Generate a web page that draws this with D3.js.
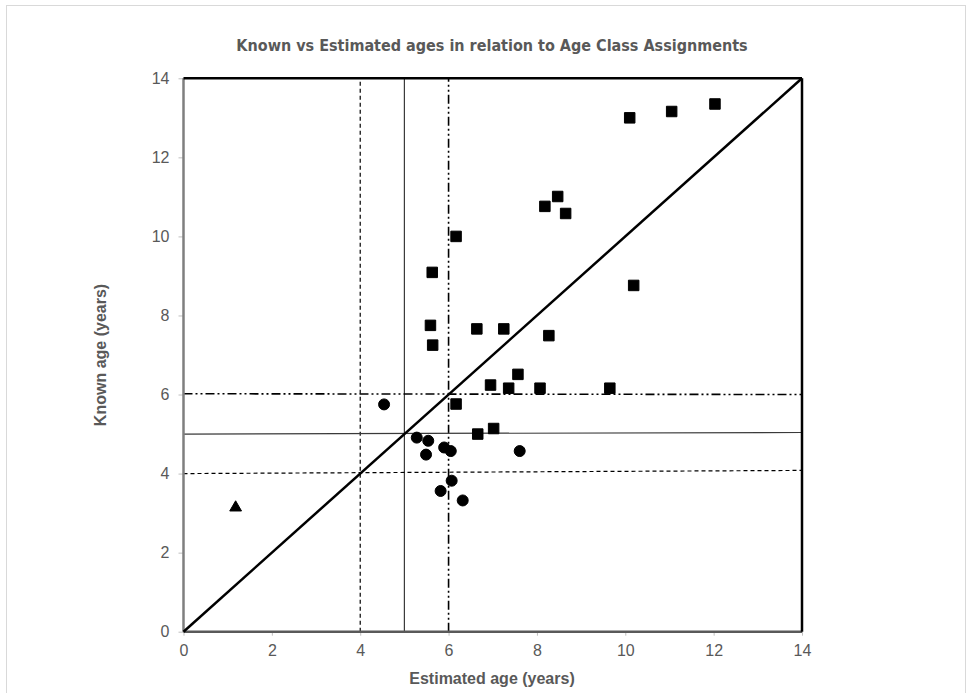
<!DOCTYPE html>
<meta charset="utf-8">
<style>
body { margin: 0; background: #fff; }
.tick text { fill: #595959; font: 16px "Liberation Sans", Arial, sans-serif; }
.axis-title { fill: #595959; font: bold 16px "Liberation Sans", Arial, sans-serif; }
.title { fill: #595959; font: bold 16px "DejaVu Sans Condensed", "DejaVu Sans", sans-serif; }
</style>
<svg width="969" height="693"></svg>
<script src="https://d3js.org/d3.v7.min.js"></script>
<script>

// squares: estimated age, known age
var squareEst   = [6.17, 5.63, 5.59, 5.64, 6.64, 7.25, 8.27, 7.57, 8.18, 8.47, 8.65, 10.19, 7.36, 8.07, 9.65, 6.95, 6.17, 6.66, 7.02, 10.1, 11.05, 12.03];
var squareKnown = [10.0, 9.09, 7.75, 7.25, 7.66, 7.66, 7.49, 6.51, 10.76, 11.01, 10.58, 8.76, 6.16, 6.16, 6.16, 6.24, 5.76, 5.0, 5.14, 13.0, 13.16, 13.35];

// circles
var circleEst   = [4.54, 5.28, 5.54, 5.49, 5.9, 6.05, 7.61, 6.07, 5.82, 6.32];
var circleKnown = [5.75, 4.91, 4.83, 4.48, 4.66, 4.57, 4.57, 3.82, 3.56, 3.32];

// triangle
var triEst = [1.18];
var triKnown = [3.14];

var ticks = [0, 2, 4, 6, 8, 10, 12, 14];

// age class boundaries: [x1, y1, x2, y2, style]
var classLines = [
  [4, 0, 4, 14, "dash"],
  [5, 0, 5, 14, "solid"],
  [6, 0, 6, 14, "dashdot"],
  [0, 4, 14, 4.08, "dash"],
  [0, 5, 14, 5.04, "solid"],
  [0, 6.02, 14, 6.0, "dashdot"]
];

var svg = d3.select("svg");

// faint frame of the chart area
svg.append("rect")
    .attr("x", 6.5).attr("y", 5.5)
    .attr("width", 959).attr("height", 700)
    .attr("fill", "none")
    .attr("stroke", "#d9d9d9");

var x = d3.scaleLinear().domain([0, 14]).range([183.5, 802]);
var y = d3.scaleLinear().domain([0, 14]).range([631.7, 78.3]);

svg.append("text")
    .attr("class", "title")
    .attr("x", 492).attr("y", 51)
    .attr("text-anchor", "middle")
    .text("Known vs Estimated ages in relation to Age Class Assignments");

var xAxis = svg.append("g")
    .attr("transform", "translate(0," + y(0) + ")")
    .call(d3.axisBottom(x).tickValues(ticks).tickSize(4).tickPadding(7));
var yAxis = svg.append("g")
    .attr("transform", "translate(" + x(0) + ",0)")
    .call(d3.axisLeft(y).tickValues(ticks).tickSize(5).tickPadding(9));

xAxis.select(".domain").remove();
yAxis.select(".domain").remove();
svg.selectAll(".tick line").attr("stroke", "#bfbfbf");
xAxis.selectAll(".tick text").attr("dy", "0.85em");

var dashes = { dash: "4,3", solid: null, dashdot: "9,3,2,3,2,3" };

svg.append("g").selectAll("line")
    .data(classLines)
    .join("line")
      .attr("x1", function(d) { return x(d[0]); })
      .attr("y1", function(d) { return y(d[1]); })
      .attr("x2", function(d) { return x(d[2]); })
      .attr("y2", function(d) { return y(d[3]); })
      .attr("stroke", function(d) { return d[4] == "solid" ? "#3a3a3a" : "#000"; })
      .attr("stroke-width", function(d) { return d[4] == "dashdot" ? 1.6 : 1.2; })
      .attr("stroke-dasharray", function(d) { return dashes[d[4]]; });

// box: gray left / bottom axes, black top / right
svg.append("line")
    .attr("x1", x(0)).attr("x2", x(0)).attr("y1", y(0)).attr("y2", y(14))
    .attr("stroke", "#7f7f7f").attr("stroke-width", 2.5);
svg.append("line")
    .attr("x1", x(0)).attr("x2", x(14)).attr("y1", y(0)).attr("y2", y(0))
    .attr("stroke", "#595959").attr("stroke-width", 2.5);
svg.append("line")
    .attr("x1", x(0)).attr("x2", x(14)).attr("y1", y(14)).attr("y2", y(14))
    .attr("stroke", "#000").attr("stroke-width", 2.5);
svg.append("line")
    .attr("x1", x(14)).attr("x2", x(14)).attr("y1", y(0)).attr("y2", y(14))
    .attr("stroke", "#000").attr("stroke-width", 2.5);

// 1:1 line
svg.append("line")
    .attr("x1", x(0)).attr("y1", y(0)).attr("x2", x(14)).attr("y2", y(14))
    .attr("stroke", "#000").attr("stroke-width", 2.5);

var sq = d3.symbol().type(d3.symbolSquare).size(110);
var ci = d3.symbol().type(d3.symbolCircle).size(95);
var tr = d3.symbol().type(d3.symbolTriangle).size(60);

function plot(est, known, sym) {
  svg.append("g").selectAll("path")
    .data(d3.range(est.length))
    .join("path")
      .attr("d", sym)
      .attr("transform", function(i) { return "translate(" + x(est[i]) + "," + y(known[i]) + ")"; })
      .attr("fill", "#000")
      .attr("stroke", "#000")
      .attr("stroke-linejoin", "round")
      .attr("stroke-width", 1);
}
plot(squareEst, squareKnown, sq);
plot(circleEst, circleKnown, ci);
plot(triEst, triKnown, tr);

svg.append("text")
    .attr("class", "axis-title")
    .attr("x", 492).attr("y", 684)
    .attr("text-anchor", "middle")
    .text("Estimated age (years)");

svg.append("text")
    .attr("class", "axis-title")
    .attr("transform", "translate(106,355) rotate(-90)")
    .attr("text-anchor", "middle")
    .text("Known age (years)");

</script>
